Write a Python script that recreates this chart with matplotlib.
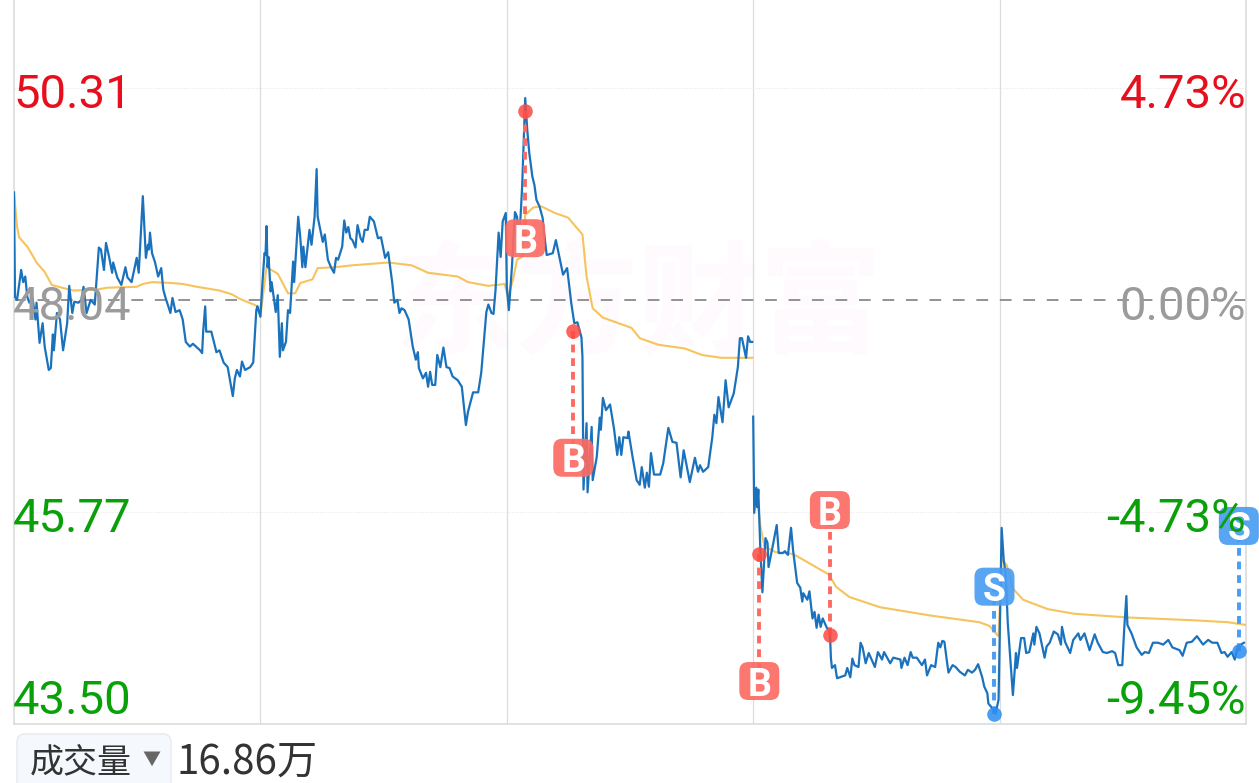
'''
五日分时图：价格线、均价线、买卖点
'''
import numpy as np
import matplotlib
matplotlib.use('Agg')
import matplotlib.pyplot as plt
from matplotlib.patches import FancyBboxPatch
from matplotlib.transforms import IdentityTransform

plt.rcParams['font.family'] = ['Roboto', 'Noto Sans CJK SC', 'DejaVu Sans']

W, H = 1259, 783

# 价格线，每天一段（分钟序号，价格）
d1_t = [0,1,3,7,9,11,13,15,18,21,22,25,28,30,34,36,38,39,42,45,48,52,54,57,59,63,66,68,71,75,79,83,85,88,90,93,96,97,101,105,109,111,115,120,122,126,129,131,132,133,135,138,141,144,146,148,153,155,158,162,165,168,172,175,182,184,185,187,188,193,198,201,205,209,214,216,218,221,223,226,231,234,237,238,241]
d1_p = [49.19,48.07,48.04,48.36,48.23,48.29,48.07,48.01,48.07,47.83,48.01,47.58,47.79,47.54,47.29,47.31,47.67,47.50,47.90,47.83,47.50,47.79,48.19,47.90,48.02,48.01,48.04,48.18,47.90,48.04,47.99,48.60,48.58,48.36,48.65,48.50,48.33,48.44,48.28,48.20,48.39,48.28,48.23,48.49,48.33,49.15,48.49,48.63,48.58,48.76,48.54,48.44,48.29,48.38,48.15,48.07,47.90,48.06,47.91,47.93,47.83,47.59,47.54,47.57,47.50,47.47,47.70,47.97,47.70,47.70,47.48,47.50,47.37,47.32,47.01,47.20,47.29,47.22,47.38,47.29,47.32,47.37,47.93,47.97,47.86]
d2_t = [243,245,246,247,248,249,251,252,256,258,260,262,263,266,268,270,273,274,278,280,282,283,285,289,291,294,296,297,302,304,307,310,313,315,317,321,323,325,327,329,331,334,336,339,341,343,346,348,352,356,359,363,366,370,372,375,377,379,382,386,390,393,395,396,400,403,405,407,409,412,414,417,420,423,426,429,434,438,442,444,449,454,457,462,464,467,469,471,474,476,478,481]
d2_p = [48.22,48.54,48.52,48.83,48.39,48.50,48.13,48.23,47.91,48.09,47.43,47.79,47.50,47.59,47.93,47.90,48.45,48.23,48.93,48.71,48.39,48.61,48.39,48.79,48.63,48.93,49.44,48.93,48.66,48.74,48.47,48.39,48.33,48.49,48.47,48.61,48.89,48.76,48.82,48.70,48.68,48.60,48.84,48.70,48.66,48.79,48.79,48.93,48.88,48.70,48.71,48.49,48.55,48.22,48.01,48.04,47.90,47.95,47.93,47.83,47.54,47.40,47.48,47.31,47.20,47.26,47.11,47.27,47.13,47.13,47.45,47.32,47.53,47.32,47.31,47.22,47.18,47.11,46.70,46.84,47.05,47.05,47.26,47.91,47.99,47.90,47.89,48.15,48.76,48.50,48.88,48.97]
d3_t = [482,484,487,490,492,494,497,500,502,504,507,509,511,514,517,519,521,527,530,534,537,541,545,548,551,555,556,557,560,561,565,566,570,573,574,576,579,583,587,590,592,594,596,600,601,605,609,612,614,617,619,621,623,626,632,635,640,644,648,652,655,661,666,669,671,674,679,683,685,687,689,693,696,699,704,708,710,712,716,718,720,722]
d3_p = [48.18,47.93,48.39,48.98,48.93,48.63,49.25,50.20,49.86,49.61,49.36,49.27,49.11,49.04,48.92,48.71,48.52,48.54,48.68,48.47,48.31,48.38,48.01,47.79,47.80,47.64,47.43,46.01,46.72,45.98,46.68,46.11,46.36,46.78,46.65,46.99,46.86,46.92,46.65,46.38,46.57,46.38,46.57,46.56,46.63,46.36,46.11,46.06,46.25,46.03,46.19,46.04,46.40,46.17,46.17,46.29,46.67,46.52,46.51,46.14,46.43,46.09,46.35,46.20,46.27,46.20,46.25,46.57,46.81,46.72,47.00,46.73,47.18,46.89,47.04,47.32,47.63,47.63,47.42,47.65,47.59,47.59]
d4_t = [723,724,726,727,728,730,732,735,737,738,742,746,748,752,754,757,760,762,766,769,771,772,776,778,781,783,785,787,789,791,795,798,799,800,803,805,813,815,818,820,822,826,828,830,833,836,842,845,849,851,854,857,860,867,868,871,874,877,879,883,888,891,893,897,901,904,906,908,910,912,914,918,921,925,930,933,937,940,943,947,949,952,953,956,960,963]
d4_p = [46.79,45.76,46.03,45.82,46.01,45.36,44.91,45.49,45.44,45.18,45.40,45.63,45.33,45.33,45.35,45.31,45.60,45.36,45.01,44.96,44.81,44.90,44.83,44.92,44.63,44.70,44.53,44.67,44.54,44.63,44.53,44.49,44.21,44.10,44.13,43.99,44.02,44.10,44.00,44.20,44.13,44.11,44.37,44.32,44.15,44.26,44.11,44.27,44.19,44.27,44.21,44.15,44.21,44.19,44.10,44.21,44.13,44.27,44.21,44.21,44.13,44.19,44.02,44.13,44.11,44.37,44.32,44.39,44.38,44.21,44.05,44.13,44.11,44.06,44.02,44.08,44.05,44.08,44.14,44.00,43.90,43.83,43.72,43.68,43.61,43.76]
d5_t = [966,968,970,972,977,980,981,985,988,990,993,997,998,1000,1003,1008,1010,1013,1017,1021,1024,1025,1028,1033,1036,1041,1043,1047,1052,1057,1060,1065,1069,1074,1077,1080,1084,1086,1088,1089,1093,1098,1103,1106,1110,1114,1119,1124,1129,1133,1140,1143,1147,1152,1157,1163,1168,1172,1177,1181,1184,1187,1191,1194,1197,1203]
d5_p = [45.60,45.26,45.10,44.58,43.81,44.26,44.10,44.42,44.42,44.26,44.27,44.47,44.35,44.54,44.47,44.21,44.33,44.37,44.49,44.46,44.35,44.54,44.38,44.26,44.40,44.47,44.40,44.47,44.29,44.46,44.37,44.27,44.26,44.28,44.26,44.13,44.13,44.54,44.87,44.56,44.47,44.32,44.24,44.27,44.26,44.37,44.37,44.35,44.40,44.32,44.29,44.23,44.37,44.38,44.44,44.35,44.40,44.37,44.37,44.26,44.27,44.22,44.27,44.19,44.33,44.37]

# 均价线
avg_a_t = [0,3,5,13,19,22,30,37,47,58,81,91,120,126,135,155,165,179,201,213,221,239,241,243,247,258,268,275,280,292,297,314,331,366,389,405,434,444,464,480,483,488,492,497,500,508,516,529,542,556,560,566,576,604,612,630,656,673,692,722]
avg_a_p = [49.19,48.82,48.71,48.61,48.50,48.44,48.34,48.20,48.17,48.14,48.15,48.17,48.18,48.21,48.23,48.22,48.21,48.18,48.14,48.10,48.05,47.97,47.86,48.04,48.39,48.32,48.11,48.11,48.22,48.26,48.38,48.39,48.41,48.44,48.41,48.33,48.29,48.23,48.19,48.21,48.07,48.25,48.47,48.50,48.95,49.03,49.04,48.97,48.92,48.74,48.29,47.95,47.85,47.74,47.63,47.56,47.52,47.45,47.42,47.42]
avg_b_t = [728,730,734,745,762,778,797,804,817,847,897,944,954,962,963,966,971,977,987,1011,1037,1090,1154,1187,1205]
avg_b_p = [45.82,45.62,45.40,45.34,45.32,45.22,45.10,44.97,44.86,44.75,44.66,44.59,44.55,44.45,44.44,45.26,45.20,44.95,44.83,44.73,44.68,44.64,44.61,44.59,44.56]

# 买卖点：分钟序号、成交价、标签所在价格
buy_t = [500, 547, 729, 798]
buy_p = [50.06, 47.71, 45.32, 44.45]
buy_tag = [48.70, 46.35, 43.96, 45.79]
sell_t = [959, 1198]
sell_p = [43.61, 44.28]
sell_tag = [44.97, 45.62]

day_lines = [241, 482, 723, 964]
prev_close = 48.04
hlines = [50.31, 45.77]

left_labels = ['50.31', '48.04', '45.77', '43.50']
right_labels = ['4.73%', '0.00%', '-4.73%', '-9.45%']
label_colors = ['#e60f1e', '#9b9b9b', '#0aa00a', '#0aa00a']
label_y = [95, 307, 519, 701]

fig = plt.figure(figsize=(W/100, H/100), dpi=100)
ax = fig.add_axes([14/W, 1-724/H, 1232/W, 724/H])
ax.set_xlim(0, 1205)
ax.set_ylim(43.50, 51.25)
ax.set_xticks([])
ax.set_yticks([])
for s in ['left', 'right', 'bottom']:
    ax.spines[s].set_color('#dcdcdc')
    ax.spines[s].set_linewidth(1.2)
ax.spines['top'].set_visible(False)

ax.text(0.507, 0.575, '东方财富', transform=ax.transAxes, ha='center', va='center',
        fontsize=88, fontweight='bold', color='#fefafd', family='Noto Sans CJK SC', zorder=0)

for x in day_lines:
    ax.axvline(x, color='#dcdcdc', lw=0.9, zorder=1)
for y in hlines:
    ax.axhline(y, color='#e8e8e8', lw=0.8, ls=(0, (1, 1.5)), zorder=1)
ax.axhline(prev_close, color='#8a8a8a', lw=1.3, ls=(0, (6.5, 6.5)), zorder=2)

ax.plot(avg_a_t, avg_a_p, color='#f6c35c', lw=1.5, zorder=3)
ax.plot(avg_b_t, avg_b_p, color='#f6c35c', lw=1.5, zorder=3)
ax.plot(d1_t+d2_t+d3_t, d1_p+d2_p+d3_p, color='#1a72bd', lw=1.6, zorder=4)
ax.plot(d4_t+d5_t, d4_p+d5_p, color='#1a72bd', lw=1.6, zorder=4)

def draw_trades(t, p, tag, color, dot, name):
    '''
    成交点、虚线和B/S标签
    '''
    for i in range(len(t)):
        ax.plot([t[i], t[i]], [p[i], tag[i]], color=color, lw=2.8, ls=(0, (2, 1.5)), zorder=5)
        ax.plot(t[i], p[i], 'o', ms=10.5, color=dot, alpha=0.85, mec='none', zorder=6)
        cx, cy = ax.transData.transform((t[i], tag[i]))
        ax.add_patch(FancyBboxPatch((cx-20, cy-19), 40, 38, boxstyle='round,pad=0,rounding_size=9',
                                    transform=IdentityTransform(), fc=color, ec='none',
                                    alpha=0.92, zorder=7, clip_on=False))
        ax.text(t[i], tag[i], name, ha='center', va='center_baseline', fontsize=27, color='white',
                fontweight='bold', zorder=8, clip_on=False)

draw_trades(buy_t, buy_p, buy_tag, '#fb6b63', '#fb4a42', 'B')
draw_trades(sell_t, sell_p, sell_tag, '#4a9df2', '#2a8cf0', 'S')

for i in range(4):
    fig.text(13/W, 1-label_y[i]/H, left_labels[i], color=label_colors[i], fontsize=34, va='center', ha='left', zorder=10)
    fig.text(1246/W, 1-label_y[i]/H, right_labels[i], color=label_colors[i], fontsize=34, va='center', ha='right', zorder=10)

# 底部成交量按钮
fig.add_artist(FancyBboxPatch((17, -20), 154, 69, boxstyle='round,pad=0,rounding_size=8',
                              transform=IdentityTransform(), fc='#f5f9fd', ec='#e6eaef', lw=1))
fig.text(30/W, 1-763/H, '成交量', color='#333333', fontsize=24.5, va='center', ha='left', family='Noto Sans CJK SC')
fig.text(151/W, 1-760/H, '▼', color='#666666', fontsize=13, va='center', ha='center', family='Noto Sans CJK SC')
fig.text(176/W, 1-763/H, '16.86万', color='#333333', fontsize=29, va='center', ha='left', family='Noto Sans CJK SC')

fig.savefig('out.png', dpi=100)
